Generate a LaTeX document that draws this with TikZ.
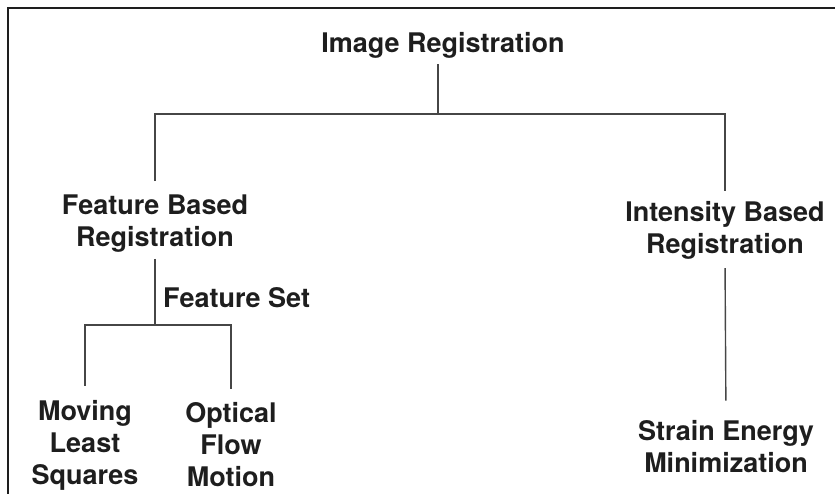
\documentclass[tikz,border=0pt]{standalone}
\usepackage{fontspec}
\setmainfont{TeX Gyre Heros}
\usetikzlibrary{positioning}
\definecolor{regink}{RGB}{30,30,30}
\definecolor{regline}{RGB}{70,70,70}

\begin{document}
\begin{tikzpicture}[
  x=1pt, y=-1pt,
  item/.style={align=center, inner sep=0pt, text=regink,
               font=\fontsize{27}{32}\selectfont\bfseries},
  conn/.style={regline, line width=1.4pt},
  frame/.style={regink, line width=2pt},
]
  \useasboundingbox (0,0) rectangle (835,493);
  \clip (0,0) rectangle (835,493);
  \draw[frame] (8,520) -- (8,8) -- (860,8);

  % ── top level ──
  \node[item] (top) at (443, 45) {Image Registration};
  \coordinate (j1) at (438, 114);

  % ── two families ──
  \node[item] (feat) at (155, 224) {Feature Based\\Registration};
  \node[item] (inten) at (725, 230) {Intensity Based\\Registration};

  % ── feature set branch ──
  \coordinate (j2) at (155, 325);
  \node[item, anchor=west] (fset) at (163, 298) {Feature Set};
  \node[item] (mls) at (85, 445) {Moving\\Least\\Squares};
  \node[item] (ofm) at (231, 445) {Optical\\Flow\\Motion};

  % ── intensity branch ──
  \node[item] (sem) at (726, 447) {Strain Energy\\Minimization};

  % ── connectors ──
  \draw[conn, shorten <=6pt] (top.south -| j1) -- (j1);
  \draw[conn, shorten <=14pt, shorten >=10pt] (feat.north) |- (j1) -| (inten.north);
  \draw[conn, shorten <=6pt] (feat.south) -- (j2);
  \draw[conn, shorten <=14pt, shorten >=14pt] (mls.north) |- (j2) -| (ofm.north);
  \draw[conn, shorten <=9pt, shorten >=20pt] (inten.south) -- (sem.north);
\end{tikzpicture}
\end{document}
